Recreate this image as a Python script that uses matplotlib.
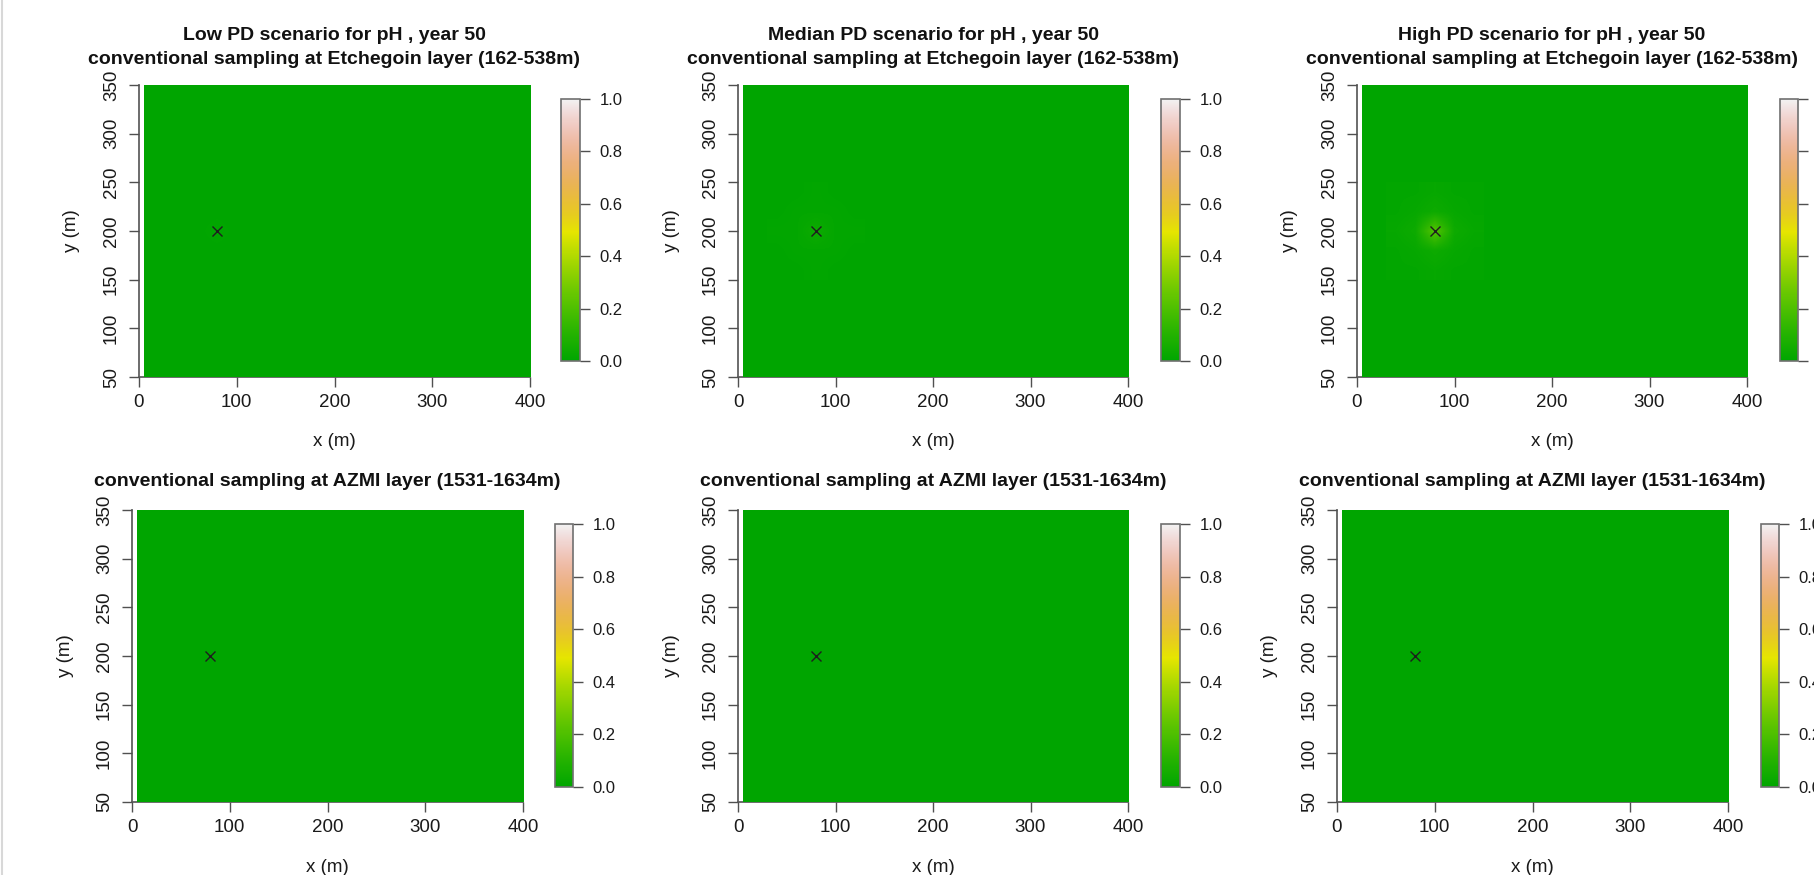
import numpy as np
import matplotlib
matplotlib.use("Agg")
import matplotlib.pyplot as plt
from matplotlib.colors import LinearSegmentedColormap, hsv_to_rgb
from matplotlib.lines import Line2D

plt.rcParams['font.family'] = ['Liberation Sans', 'DejaVu Sans']

# ---- data ----
x_ticks = [0, 100, 200, 300, 400]
y_ticks = [50, 100, 150, 200, 250, 300, 350]
cbar_ticks = [0.0, 0.2, 0.4, 0.6, 0.8, 1.0]
cbar_labels = ["0.0", "0.2", "0.4", "0.6", "0.8", "1.0"]

well_x, well_y = 80, 200
field_extent = (5, 400, 50, 350)      # model domain (m)
patch_extent = (30, 130, 150, 250)    # cells around the well (m)

# probability of exceeding the pH threshold around the well (rows: y = 160 .. 240)
low_pd = [
    [0.00, 0.00, 0.00, 0.00, 0.00],
    [0.00, 0.00, 0.00, 0.00, 0.00],
    [0.00, 0.00, 0.01, 0.00, 0.00],
    [0.00, 0.00, 0.00, 0.00, 0.00],
    [0.00, 0.00, 0.00, 0.00, 0.00],
]
median_pd = [
    [0.00, 0.00, 0.01, 0.00, 0.00],
    [0.00, 0.01, 0.01, 0.01, 0.00],
    [0.01, 0.01, 0.04, 0.01, 0.01],
    [0.00, 0.01, 0.01, 0.01, 0.00],
    [0.00, 0.00, 0.01, 0.00, 0.00],
]
high_pd = [
    [0.01, 0.01, 0.02, 0.01, 0.01],
    [0.01, 0.02, 0.04, 0.02, 0.01],
    [0.02, 0.04, 0.22, 0.04, 0.02],
    [0.01, 0.02, 0.04, 0.02, 0.01],
    [0.01, 0.01, 0.02, 0.01, 0.01],
]
azmi_pd = [
    [0.00, 0.00, 0.00, 0.00, 0.00],
    [0.00, 0.00, 0.00, 0.00, 0.00],
    [0.00, 0.00, 0.00, 0.00, 0.00],
    [0.00, 0.00, 0.00, 0.00, 0.00],
    [0.00, 0.00, 0.00, 0.00, 0.00],
]

scenarios = ["Low", "Median", "High"]
top_layer = "conventional sampling at Etchegoin layer (162-538m)"
bottom_layer = "conventional sampling at AZMI layer (1531-1634m)"

# ---- terrain.colors(64) palette ----
n = 64
k = n // 2
h = np.r_[np.linspace(4 / 12, 2 / 12, k), np.linspace(2 / 12, 0, n - k + 1)[1:]]
s = np.r_[np.linspace(1, 1, k), np.linspace(1, 0, n - k + 1)[1:]]
v = np.r_[np.linspace(0.65, 0.9, k), np.linspace(0.9, 0.95, n - k + 1)[1:]]
terrain = LinearSegmentedColormap.from_list("terrain", hsv_to_rgb(np.column_stack([h, s, v])))

W, H = 1814, 875
fig = plt.figure(figsize=(W / 100, H / 100), dpi=100)
fig.add_artist(Line2D([1.5 / W, 1.5 / W], [0, 1], color="#d8d8d8", lw=1.5))


def box(l, r, t, b):
    return [l / W, 1 - b / H, (r - l) / W, (b - t) / H]


def panel(ax_box, cb_box, values, title_lines, title_y, xlab_y):
    l, r, t, b = ax_box
    ax = fig.add_axes(box(*ax_box))
    ax.imshow([[0.0]], extent=field_extent, cmap=terrain, vmin=0, vmax=1,
              aspect="auto", zorder=1)
    im = ax.imshow(values, extent=patch_extent, origin="lower", cmap=terrain,
                   vmin=0, vmax=1, interpolation="bilinear", aspect="auto", zorder=1)
    ax.plot(well_x, well_y, marker="x", color="#1e1e1e", ms=7, mew=1, zorder=2)
    ax.set_xlim(0, 400)
    ax.set_ylim(50, 350)
    for side in ["top", "right"]:
        ax.spines[side].set_visible(False)
    for side in ["left", "bottom"]:
        ax.spines[side].set_color("#606060")
        ax.spines[side].set_linewidth(1.3)
        ax.spines[side].set_zorder(0)
    ax.set_xticks(x_ticks)
    ax.set_yticks(y_ticks)
    ax.set_yticklabels([str(y) for y in y_ticks], rotation=90, va="center")
    ax.tick_params(axis="both", direction="out", length=7.2, width=1,
                   color="#505050", labelsize=13.5, labelcolor="#1a1a1a")
    ax.tick_params(axis="x", pad=5)
    ax.tick_params(axis="y", pad=6.5)
    xc = (l + r) / 2
    for txt, ty in zip(title_lines, title_y):
        fig.text(xc / W, 1 - ty / H, txt, ha="center", va="center",
                 fontsize=14, fontweight="bold", color="#111111")
    fig.text(xc / W, 1 - xlab_y / H, "x (m)", ha="center", va="center",
             fontsize=13.5, color="#1a1a1a")
    fig.text((l - 67) / W, 1 - ((t + b) / 2) / H, "y (m)", ha="center",
             va="center", rotation=90, fontsize=13.5, color="#1a1a1a")

    cax = fig.add_axes(box(*cb_box))
    cb = fig.colorbar(im, cax=cax, ticks=cbar_ticks)
    cb.set_ticklabels(cbar_labels)
    cb.outline.set_edgecolor("#707070")
    cb.outline.set_linewidth(1.2)
    cax.tick_params(direction="out", length=7.2, width=1, color="#505050",
                    labelsize=12, labelcolor="#1a1a1a", pad=7)
    return ax


top_fields = [low_pd, median_pd, high_pd]
top_axes = [(139, 530, 85, 377), (738, 1128, 85, 377), (1357, 1747, 85, 377)]
top_cbars = [(561, 580, 99, 361), (1161, 1180, 99, 361), (1780, 1798, 99, 361)]
bot_axes = [(132, 523, 510, 802), (738, 1128, 510, 802), (1337, 1728, 510, 802)]
bot_cbars = [(555, 573, 524, 787), (1161, 1180, 524, 787), (1761, 1779, 524, 787)]

for name, field, axb, cbb in zip(scenarios, top_fields, top_axes, top_cbars):
    panel(axb, cbb, field,
          [f"{name} PD scenario for pH , year 50", top_layer], [36, 59], 442)

for axb, cbb in zip(bot_axes, bot_cbars):
    panel(axb, cbb, azmi_pd, [bottom_layer], [482], 867)

fig.savefig("out.png", dpi=100)
